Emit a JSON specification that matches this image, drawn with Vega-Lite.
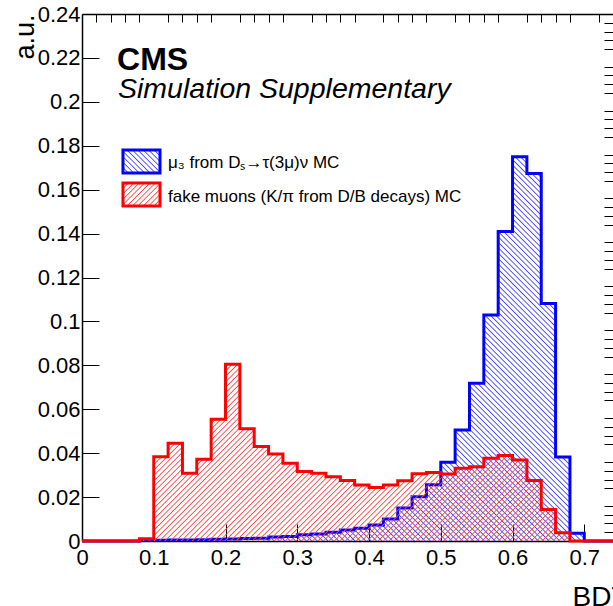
{
  "$schema": "https://vega.github.io/schema/vega-lite/v6.json",
  "width": 531,
  "height": 527,
  "autosize": {"type": "none"},
  "padding": {"left": 82, "top": 14, "right": 0, "bottom": 65},
  "background": "white",
  "datasets": {
    "muon": [
      {"lo": 0.00, "hi": 0.02, "v": 0},
      {"lo": 0.02, "hi": 0.04, "v": 0},
      {"lo": 0.04, "hi": 0.06, "v": 0},
      {"lo": 0.06, "hi": 0.08, "v": 0},
      {"lo": 0.08, "hi": 0.10, "v": 0.0003},
      {"lo": 0.10, "hi": 0.12, "v": 0.0003},
      {"lo": 0.12, "hi": 0.14, "v": 0.0004},
      {"lo": 0.14, "hi": 0.16, "v": 0.0005},
      {"lo": 0.16, "hi": 0.18, "v": 0.0006},
      {"lo": 0.18, "hi": 0.20, "v": 0.0008},
      {"lo": 0.20, "hi": 0.22, "v": 0.0009},
      {"lo": 0.22, "hi": 0.24, "v": 0.0011},
      {"lo": 0.24, "hi": 0.26, "v": 0.0013},
      {"lo": 0.26, "hi": 0.28, "v": 0.0018},
      {"lo": 0.28, "hi": 0.30, "v": 0.0021},
      {"lo": 0.30, "hi": 0.32, "v": 0.0028},
      {"lo": 0.32, "hi": 0.34, "v": 0.0032},
      {"lo": 0.34, "hi": 0.36, "v": 0.0040},
      {"lo": 0.36, "hi": 0.38, "v": 0.0050},
      {"lo": 0.38, "hi": 0.40, "v": 0.0058},
      {"lo": 0.40, "hi": 0.42, "v": 0.0073},
      {"lo": 0.42, "hi": 0.44, "v": 0.0100},
      {"lo": 0.44, "hi": 0.46, "v": 0.0150},
      {"lo": 0.46, "hi": 0.48, "v": 0.0201},
      {"lo": 0.48, "hi": 0.50, "v": 0.0256},
      {"lo": 0.50, "hi": 0.52, "v": 0.0359},
      {"lo": 0.52, "hi": 0.54, "v": 0.0506},
      {"lo": 0.54, "hi": 0.56, "v": 0.0718},
      {"lo": 0.56, "hi": 0.58, "v": 0.1029},
      {"lo": 0.58, "hi": 0.60, "v": 0.1409},
      {"lo": 0.60, "hi": 0.62, "v": 0.1750},
      {"lo": 0.62, "hi": 0.64, "v": 0.1674},
      {"lo": 0.64, "hi": 0.66, "v": 0.1082},
      {"lo": 0.66, "hi": 0.68, "v": 0.0382},
      {"lo": 0.68, "hi": 0.70, "v": 0.0035},
      {"lo": 0.70, "hi": 0.72, "v": 0},
      {"lo": 0.72, "hi": 0.74, "v": 0}
    ],
    "fake": [
      {"lo": 0.00, "hi": 0.02, "v": 0},
      {"lo": 0.02, "hi": 0.04, "v": 0},
      {"lo": 0.04, "hi": 0.06, "v": 0},
      {"lo": 0.06, "hi": 0.08, "v": 0},
      {"lo": 0.08, "hi": 0.10, "v": 0.0010},
      {"lo": 0.10, "hi": 0.12, "v": 0.0384},
      {"lo": 0.12, "hi": 0.14, "v": 0.0445},
      {"lo": 0.14, "hi": 0.16, "v": 0.0308},
      {"lo": 0.16, "hi": 0.18, "v": 0.0372},
      {"lo": 0.18, "hi": 0.20, "v": 0.0554},
      {"lo": 0.20, "hi": 0.22, "v": 0.0805},
      {"lo": 0.22, "hi": 0.24, "v": 0.0511},
      {"lo": 0.24, "hi": 0.26, "v": 0.0430},
      {"lo": 0.26, "hi": 0.28, "v": 0.0396},
      {"lo": 0.28, "hi": 0.30, "v": 0.0354},
      {"lo": 0.30, "hi": 0.32, "v": 0.0316},
      {"lo": 0.32, "hi": 0.34, "v": 0.0308},
      {"lo": 0.34, "hi": 0.36, "v": 0.0293},
      {"lo": 0.36, "hi": 0.38, "v": 0.0275},
      {"lo": 0.38, "hi": 0.40, "v": 0.0255},
      {"lo": 0.40, "hi": 0.42, "v": 0.0244},
      {"lo": 0.42, "hi": 0.44, "v": 0.0255},
      {"lo": 0.44, "hi": 0.46, "v": 0.0274},
      {"lo": 0.46, "hi": 0.48, "v": 0.0306},
      {"lo": 0.48, "hi": 0.50, "v": 0.0312},
      {"lo": 0.50, "hi": 0.52, "v": 0.0305},
      {"lo": 0.52, "hi": 0.54, "v": 0.0331},
      {"lo": 0.54, "hi": 0.56, "v": 0.0338},
      {"lo": 0.56, "hi": 0.58, "v": 0.0377},
      {"lo": 0.58, "hi": 0.60, "v": 0.0389},
      {"lo": 0.60, "hi": 0.62, "v": 0.0369},
      {"lo": 0.62, "hi": 0.64, "v": 0.0275},
      {"lo": 0.64, "hi": 0.66, "v": 0.0144},
      {"lo": 0.66, "hi": 0.68, "v": 0.0038},
      {"lo": 0.68, "hi": 0.70, "v": 0},
      {"lo": 0.70, "hi": 0.72, "v": 0},
      {"lo": 0.72, "hi": 0.74, "v": 0}
    ]
  },
  "layer": [
    {
      "data": {"name": "muon"},
      "transform": [{"filter": "datum.v > 0"}, {"fold": ["lo", "hi"], "as": ["edge", "x"]}],
      "mark": {
        "type": "area", "clip": true,
        "fill": {
          "gradient": "linear", "x1": 0, "y1": 1, "x2": 1.0674, "y2": 0.078,
          "stops": [
            {"offset":0.1545,"color":"#44f0"},{"offset":0.156,"color":"#44f"},{"offset":0.1575,"color":"#44f0"},
            {"offset":0.161,"color":"#44f0"},{"offset":0.1625,"color":"#44f"},{"offset":0.164,"color":"#44f0"},
            {"offset":0.1675,"color":"#44f0"},{"offset":0.169,"color":"#44f"},{"offset":0.1705,"color":"#44f0"},
            {"offset":0.174,"color":"#44f0"},{"offset":0.1755,"color":"#44f"},{"offset":0.177,"color":"#44f0"},
            {"offset":0.1805,"color":"#44f0"},{"offset":0.182,"color":"#44f"},{"offset":0.1835,"color":"#44f0"},
            {"offset":0.187,"color":"#44f0"},{"offset":0.1885,"color":"#44f"},{"offset":0.19,"color":"#44f0"},
            {"offset":0.1935,"color":"#44f0"},{"offset":0.195,"color":"#44f"},{"offset":0.1965,"color":"#44f0"},
            {"offset":0.2,"color":"#44f0"},{"offset":0.2015,"color":"#44f"},{"offset":0.203,"color":"#44f0"},
            {"offset":0.2065,"color":"#44f0"},{"offset":0.208,"color":"#44f"},{"offset":0.2095,"color":"#44f0"},
            {"offset":0.213,"color":"#44f0"},{"offset":0.2145,"color":"#44f"},{"offset":0.216,"color":"#44f0"},
            {"offset":0.2195,"color":"#44f0"},{"offset":0.221,"color":"#44f"},{"offset":0.2225,"color":"#44f0"},
            {"offset":0.226,"color":"#44f0"},{"offset":0.2275,"color":"#44f"},{"offset":0.229,"color":"#44f0"},
            {"offset":0.2325,"color":"#44f0"},{"offset":0.234,"color":"#44f"},{"offset":0.2355,"color":"#44f0"},
            {"offset":0.239,"color":"#44f0"},{"offset":0.2405,"color":"#44f"},{"offset":0.242,"color":"#44f0"},
            {"offset":0.2455,"color":"#44f0"},{"offset":0.247,"color":"#44f"},{"offset":0.2485,"color":"#44f0"},
            {"offset":0.252,"color":"#44f0"},{"offset":0.2535,"color":"#44f"},{"offset":0.255,"color":"#44f0"},
            {"offset":0.2585,"color":"#44f0"},{"offset":0.26,"color":"#44f"},{"offset":0.2615,"color":"#44f0"},
            {"offset":0.265,"color":"#44f0"},{"offset":0.2665,"color":"#44f"},{"offset":0.268,"color":"#44f0"},
            {"offset":0.2715,"color":"#44f0"},{"offset":0.273,"color":"#44f"},{"offset":0.2745,"color":"#44f0"},
            {"offset":0.278,"color":"#44f0"},{"offset":0.2795,"color":"#44f"},{"offset":0.281,"color":"#44f0"},
            {"offset":0.2845,"color":"#44f0"},{"offset":0.286,"color":"#44f"},{"offset":0.2875,"color":"#44f0"},
            {"offset":0.291,"color":"#44f0"},{"offset":0.2925,"color":"#44f"},{"offset":0.294,"color":"#44f0"},
            {"offset":0.2975,"color":"#44f0"},{"offset":0.299,"color":"#44f"},{"offset":0.3005,"color":"#44f0"},
            {"offset":0.304,"color":"#44f0"},{"offset":0.3055,"color":"#44f"},{"offset":0.307,"color":"#44f0"},
            {"offset":0.3105,"color":"#44f0"},{"offset":0.312,"color":"#44f"},{"offset":0.3135,"color":"#44f0"},
            {"offset":0.317,"color":"#44f0"},{"offset":0.3185,"color":"#44f"},{"offset":0.32,"color":"#44f0"},
            {"offset":0.3235,"color":"#44f0"},{"offset":0.325,"color":"#44f"},{"offset":0.3265,"color":"#44f0"},
            {"offset":0.33,"color":"#44f0"},{"offset":0.3315,"color":"#44f"},{"offset":0.333,"color":"#44f0"},
            {"offset":0.3365,"color":"#44f0"},{"offset":0.338,"color":"#44f"},{"offset":0.3395,"color":"#44f0"},
            {"offset":0.343,"color":"#44f0"},{"offset":0.3445,"color":"#44f"},{"offset":0.346,"color":"#44f0"},
            {"offset":0.3495,"color":"#44f0"},{"offset":0.351,"color":"#44f"},{"offset":0.3525,"color":"#44f0"},
            {"offset":0.356,"color":"#44f0"},{"offset":0.3575,"color":"#44f"},{"offset":0.359,"color":"#44f0"},
            {"offset":0.3625,"color":"#44f0"},{"offset":0.364,"color":"#44f"},{"offset":0.3655,"color":"#44f0"},
            {"offset":0.369,"color":"#44f0"},{"offset":0.3705,"color":"#44f"},{"offset":0.372,"color":"#44f0"},
            {"offset":0.3755,"color":"#44f0"},{"offset":0.377,"color":"#44f"},{"offset":0.3785,"color":"#44f0"},
            {"offset":0.382,"color":"#44f0"},{"offset":0.3835,"color":"#44f"},{"offset":0.385,"color":"#44f0"},
            {"offset":0.3885,"color":"#44f0"},{"offset":0.39,"color":"#44f"},{"offset":0.3915,"color":"#44f0"},
            {"offset":0.395,"color":"#44f0"},{"offset":0.3965,"color":"#44f"},{"offset":0.398,"color":"#44f0"},
            {"offset":0.4015,"color":"#44f0"},{"offset":0.403,"color":"#44f"},{"offset":0.4045,"color":"#44f0"},
            {"offset":0.408,"color":"#44f0"},{"offset":0.4095,"color":"#44f"},{"offset":0.411,"color":"#44f0"},
            {"offset":0.4145,"color":"#44f0"},{"offset":0.416,"color":"#44f"},{"offset":0.4175,"color":"#44f0"},
            {"offset":0.421,"color":"#44f0"},{"offset":0.4225,"color":"#44f"},{"offset":0.424,"color":"#44f0"},
            {"offset":0.4275,"color":"#44f0"},{"offset":0.429,"color":"#44f"},{"offset":0.4305,"color":"#44f0"},
            {"offset":0.434,"color":"#44f0"},{"offset":0.4355,"color":"#44f"},{"offset":0.437,"color":"#44f0"},
            {"offset":0.4405,"color":"#44f0"},{"offset":0.442,"color":"#44f"},{"offset":0.4435,"color":"#44f0"},
            {"offset":0.447,"color":"#44f0"},{"offset":0.4485,"color":"#44f"},{"offset":0.45,"color":"#44f0"},
            {"offset":0.4535,"color":"#44f0"},{"offset":0.455,"color":"#44f"},{"offset":0.4565,"color":"#44f0"},
            {"offset":0.46,"color":"#44f0"},{"offset":0.4615,"color":"#44f"},{"offset":0.463,"color":"#44f0"},
            {"offset":0.4665,"color":"#44f0"},{"offset":0.468,"color":"#44f"},{"offset":0.4695,"color":"#44f0"},
            {"offset":0.473,"color":"#44f0"},{"offset":0.4745,"color":"#44f"},{"offset":0.476,"color":"#44f0"},
            {"offset":0.4795,"color":"#44f0"},{"offset":0.481,"color":"#44f"},{"offset":0.4825,"color":"#44f0"},
            {"offset":0.486,"color":"#44f0"},{"offset":0.4875,"color":"#44f"},{"offset":0.489,"color":"#44f0"},
            {"offset":0.4925,"color":"#44f0"},{"offset":0.494,"color":"#44f"},{"offset":0.4955,"color":"#44f0"},
            {"offset":0.499,"color":"#44f0"},{"offset":0.5005,"color":"#44f"},{"offset":0.502,"color":"#44f0"},
            {"offset":0.5055,"color":"#44f0"},{"offset":0.507,"color":"#44f"},{"offset":0.5085,"color":"#44f0"},
            {"offset":0.512,"color":"#44f0"},{"offset":0.5135,"color":"#44f"},{"offset":0.515,"color":"#44f0"},
            {"offset":0.5185,"color":"#44f0"},{"offset":0.52,"color":"#44f"},{"offset":0.5215,"color":"#44f0"},
            {"offset":0.525,"color":"#44f0"},{"offset":0.5265,"color":"#44f"},{"offset":0.528,"color":"#44f0"},
            {"offset":0.5315,"color":"#44f0"},{"offset":0.533,"color":"#44f"},{"offset":0.5345,"color":"#44f0"},
            {"offset":0.538,"color":"#44f0"},{"offset":0.5395,"color":"#44f"},{"offset":0.541,"color":"#44f0"},
            {"offset":0.5445,"color":"#44f0"},{"offset":0.546,"color":"#44f"},{"offset":0.5475,"color":"#44f0"},
            {"offset":0.551,"color":"#44f0"},{"offset":0.5525,"color":"#44f"},{"offset":0.554,"color":"#44f0"},
            {"offset":0.5575,"color":"#44f0"},{"offset":0.559,"color":"#44f"},{"offset":0.5605,"color":"#44f0"},
            {"offset":0.564,"color":"#44f0"},{"offset":0.5655,"color":"#44f"},{"offset":0.567,"color":"#44f0"},
            {"offset":0.5705,"color":"#44f0"},{"offset":0.572,"color":"#44f"},{"offset":0.5735,"color":"#44f0"},
            {"offset":0.577,"color":"#44f0"},{"offset":0.5785,"color":"#44f"},{"offset":0.58,"color":"#44f0"},
            {"offset":0.5835,"color":"#44f0"},{"offset":0.585,"color":"#44f"},{"offset":0.5865,"color":"#44f0"},
            {"offset":0.59,"color":"#44f0"},{"offset":0.5915,"color":"#44f"},{"offset":0.593,"color":"#44f0"},
            {"offset":0.5965,"color":"#44f0"},{"offset":0.598,"color":"#44f"},{"offset":0.5995,"color":"#44f0"},
            {"offset":0.603,"color":"#44f0"},{"offset":0.6045,"color":"#44f"},{"offset":0.606,"color":"#44f0"},
            {"offset":0.6095,"color":"#44f0"},{"offset":0.611,"color":"#44f"},{"offset":0.6125,"color":"#44f0"},
            {"offset":0.616,"color":"#44f0"},{"offset":0.6175,"color":"#44f"},{"offset":0.619,"color":"#44f0"},
            {"offset":0.6225,"color":"#44f0"},{"offset":0.624,"color":"#44f"},{"offset":0.6255,"color":"#44f0"},
            {"offset":0.629,"color":"#44f0"},{"offset":0.6305,"color":"#44f"},{"offset":0.632,"color":"#44f0"},
            {"offset":0.6355,"color":"#44f0"},{"offset":0.637,"color":"#44f"},{"offset":0.6385,"color":"#44f0"},
            {"offset":0.642,"color":"#44f0"},{"offset":0.6435,"color":"#44f"},{"offset":0.645,"color":"#44f0"},
            {"offset":0.6485,"color":"#44f0"},{"offset":0.65,"color":"#44f"},{"offset":0.6515,"color":"#44f0"},
            {"offset":0.655,"color":"#44f0"},{"offset":0.6565,"color":"#44f"},{"offset":0.658,"color":"#44f0"},
            {"offset":0.6615,"color":"#44f0"},{"offset":0.663,"color":"#44f"},{"offset":0.6645,"color":"#44f0"},
            {"offset":0.668,"color":"#44f0"},{"offset":0.6695,"color":"#44f"},{"offset":0.671,"color":"#44f0"},
            {"offset":0.6745,"color":"#44f0"},{"offset":0.676,"color":"#44f"},{"offset":0.6775,"color":"#44f0"},
            {"offset":0.681,"color":"#44f0"},{"offset":0.6825,"color":"#44f"},{"offset":0.684,"color":"#44f0"},
            {"offset":0.6875,"color":"#44f0"},{"offset":0.689,"color":"#44f"},{"offset":0.6905,"color":"#44f0"},
            {"offset":0.694,"color":"#44f0"},{"offset":0.6955,"color":"#44f"},{"offset":0.697,"color":"#44f0"},
            {"offset":0.7005,"color":"#44f0"},{"offset":0.702,"color":"#44f"},{"offset":0.7035,"color":"#44f0"},
            {"offset":0.707,"color":"#44f0"},{"offset":0.7085,"color":"#44f"},{"offset":0.71,"color":"#44f0"},
            {"offset":0.7135,"color":"#44f0"},{"offset":0.715,"color":"#44f"},{"offset":0.7165,"color":"#44f0"},
            {"offset":0.72,"color":"#44f0"},{"offset":0.7215,"color":"#44f"},{"offset":0.723,"color":"#44f0"},
            {"offset":0.7265,"color":"#44f0"},{"offset":0.728,"color":"#44f"},{"offset":0.7295,"color":"#44f0"},
            {"offset":0.733,"color":"#44f0"},{"offset":0.7345,"color":"#44f"},{"offset":0.736,"color":"#44f0"},
            {"offset":0.7395,"color":"#44f0"},{"offset":0.741,"color":"#44f"},{"offset":0.7425,"color":"#44f0"},
            {"offset":0.746,"color":"#44f0"},{"offset":0.7475,"color":"#44f"},{"offset":0.749,"color":"#44f0"},
            {"offset":0.7525,"color":"#44f0"},{"offset":0.754,"color":"#44f"},{"offset":0.7555,"color":"#44f0"},
            {"offset":0.759,"color":"#44f0"},{"offset":0.7605,"color":"#44f"},{"offset":0.762,"color":"#44f0"},
            {"offset":0.7655,"color":"#44f0"},{"offset":0.767,"color":"#44f"},{"offset":0.7685,"color":"#44f0"},
            {"offset":0.772,"color":"#44f0"},{"offset":0.7735,"color":"#44f"},{"offset":0.775,"color":"#44f0"},
            {"offset":0.7785,"color":"#44f0"},{"offset":0.78,"color":"#44f"},{"offset":0.7815,"color":"#44f0"},
            {"offset":0.785,"color":"#44f0"},{"offset":0.7865,"color":"#44f"},{"offset":0.788,"color":"#44f0"},
            {"offset":0.7915,"color":"#44f0"},{"offset":0.793,"color":"#44f"},{"offset":0.7945,"color":"#44f0"},
            {"offset":0.798,"color":"#44f0"},{"offset":0.7995,"color":"#44f"},{"offset":0.801,"color":"#44f0"},
            {"offset":0.8045,"color":"#44f0"},{"offset":0.806,"color":"#44f"},{"offset":0.8075,"color":"#44f0"},
            {"offset":0.811,"color":"#44f0"},{"offset":0.8125,"color":"#44f"},{"offset":0.814,"color":"#44f0"},
            {"offset":0.8175,"color":"#44f0"},{"offset":0.819,"color":"#44f"},{"offset":0.8205,"color":"#44f0"},
            {"offset":0.824,"color":"#44f0"},{"offset":0.8255,"color":"#44f"},{"offset":0.827,"color":"#44f0"},
            {"offset":0.8305,"color":"#44f0"},{"offset":0.832,"color":"#44f"},{"offset":0.8335,"color":"#44f0"},
            {"offset":0.837,"color":"#44f0"},{"offset":0.8385,"color":"#44f"},{"offset":0.84,"color":"#44f0"},
            {"offset":0.8435,"color":"#44f0"},{"offset":0.845,"color":"#44f"},{"offset":0.8465,"color":"#44f0"},
            {"offset":0.85,"color":"#44f0"},{"offset":0.8515,"color":"#44f"},{"offset":0.853,"color":"#44f0"},
            {"offset":0.8565,"color":"#44f0"},{"offset":0.858,"color":"#44f"},{"offset":0.8595,"color":"#44f0"},
            {"offset":0.863,"color":"#44f0"},{"offset":0.8645,"color":"#44f"},{"offset":0.866,"color":"#44f0"},
            {"offset":0.8695,"color":"#44f0"},{"offset":0.871,"color":"#44f"},{"offset":0.8725,"color":"#44f0"},
            {"offset":0.876,"color":"#44f0"},{"offset":0.8775,"color":"#44f"},{"offset":0.879,"color":"#44f0"},
            {"offset":0.8825,"color":"#44f0"},{"offset":0.884,"color":"#44f"},{"offset":0.8855,"color":"#44f0"},
            {"offset":0.889,"color":"#44f0"},{"offset":0.8905,"color":"#44f"},{"offset":0.892,"color":"#44f0"},
            {"offset":0.8955,"color":"#44f0"},{"offset":0.897,"color":"#44f"},{"offset":0.8985,"color":"#44f0"},
            {"offset":0.902,"color":"#44f0"},{"offset":0.9035,"color":"#44f"},{"offset":0.905,"color":"#44f0"},
            {"offset":0.9085,"color":"#44f0"},{"offset":0.91,"color":"#44f"},{"offset":0.9115,"color":"#44f0"},
            {"offset":0.915,"color":"#44f0"},{"offset":0.9165,"color":"#44f"},{"offset":0.918,"color":"#44f0"},
            {"offset":0.9215,"color":"#44f0"},{"offset":0.923,"color":"#44f"},{"offset":0.9245,"color":"#44f0"},
            {"offset":0.928,"color":"#44f0"},{"offset":0.9295,"color":"#44f"},{"offset":0.931,"color":"#44f0"},
            {"offset":0.9345,"color":"#44f0"},{"offset":0.936,"color":"#44f"},{"offset":0.9375,"color":"#44f0"},
            {"offset":0.941,"color":"#44f0"},{"offset":0.9425,"color":"#44f"},{"offset":0.944,"color":"#44f0"}
          ]
        }
      },
      "encoding": {
        "x": {
          "field": "x", "type": "quantitative",
          "scale": {"domain": [0, 0.74], "nice": false, "zero": false},
          "axis": {
            "values": [0, 0.1, 0.2, 0.3, 0.4, 0.5, 0.6, 0.7],
            "format": ".1~f", "tickSize": -17, "labelPadding": 23,
            "domain": true, "domainWidth": 1.5,
            "title": "BDT", "titleFontSize": 28, "titleAlign": "left", "titleAnchor": "start",
            "titleX": 490, "titleY": 64, "titleBaseline": "alphabetic"
          }
        },
        "y": {
          "field": "v", "type": "quantitative", "stack": null,
          "scale": {"domain": [0, 0.24], "nice": false, "zero": false},
          "axis": {
            "values": [0, 0.02, 0.04, 0.06, 0.08, 0.1, 0.12, 0.14, 0.16, 0.18, 0.2, 0.22, 0.24],
            "format": ".2~f", "tickSize": -17, "labelPadding": 19,
            "domain": true, "domainWidth": 1.5,
            "title": "a.u.", "titleFontSize": 27, "titleAngle": -90, "titleAlign": "right", "titleAnchor": "end",
            "titleX": -49, "titleY": 0, "titleBaseline": "alphabetic"
          }
        }
      }
    },
    {
      "data": {"name": "muon"},
      "transform": [{"fold": ["lo", "hi"], "as": ["edge", "x"]}],
      "mark": {"type": "line", "color": "#0000ff", "strokeWidth": 3, "strokeJoin": "miter"},
      "encoding": {
        "x": {
          "field": "x", "type": "quantitative",
          "axis": {
            "values": [0.02, 0.04, 0.06, 0.08, 0.12, 0.14, 0.16, 0.18, 0.22, 0.24, 0.26, 0.28, 0.32, 0.34, 0.36, 0.38, 0.42, 0.44, 0.46, 0.48, 0.52, 0.54, 0.56, 0.58, 0.62, 0.64, 0.66, 0.68, 0.72, 0.74],
            "tickSize": -8, "labels": false, "domain": false, "title": null
          }
        },
        "y": {
          "field": "v", "type": "quantitative",
          "axis": {
            "values": [0.004, 0.008, 0.012, 0.016, 0.024, 0.028, 0.032, 0.036, 0.044, 0.048, 0.052, 0.056, 0.064, 0.068, 0.072, 0.076, 0.084, 0.088, 0.092, 0.096, 0.104, 0.108, 0.112, 0.116, 0.124, 0.128, 0.132, 0.136, 0.144, 0.148, 0.152, 0.156, 0.164, 0.168, 0.172, 0.176, 0.184, 0.188, 0.192, 0.196, 0.204, 0.208, 0.212, 0.216, 0.224, 0.228, 0.232, 0.236],
            "tickSize": -9, "labels": false, "domain": false, "title": null
          }
        },
        "order": [{"field": "x"}, {"field": "lo"}]
      }
    },
    {
      "data": {"name": "fake"},
      "transform": [{"filter": "datum.v > 0"}, {"fold": ["lo", "hi"], "as": ["edge", "x"]}],
      "mark": {
        "type": "area", "clip": true,
        "fill": {
          "gradient": "linear", "x1": 0, "y1": 0, "x2": 1.2071, "y2": 0.4956,
          "stops": [
            {"offset":0.133,"color":"#f440"},{"offset":0.135,"color":"#f44"},{"offset":0.137,"color":"#f440"},
            {"offset":0.142,"color":"#f440"},{"offset":0.144,"color":"#f44"},{"offset":0.146,"color":"#f440"},
            {"offset":0.151,"color":"#f440"},{"offset":0.153,"color":"#f44"},{"offset":0.155,"color":"#f440"},
            {"offset":0.16,"color":"#f440"},{"offset":0.162,"color":"#f44"},{"offset":0.164,"color":"#f440"},
            {"offset":0.169,"color":"#f440"},{"offset":0.171,"color":"#f44"},{"offset":0.173,"color":"#f440"},
            {"offset":0.178,"color":"#f440"},{"offset":0.18,"color":"#f44"},{"offset":0.182,"color":"#f440"},
            {"offset":0.187,"color":"#f440"},{"offset":0.189,"color":"#f44"},{"offset":0.191,"color":"#f440"},
            {"offset":0.196,"color":"#f440"},{"offset":0.198,"color":"#f44"},{"offset":0.2,"color":"#f440"},
            {"offset":0.205,"color":"#f440"},{"offset":0.207,"color":"#f44"},{"offset":0.209,"color":"#f440"},
            {"offset":0.214,"color":"#f440"},{"offset":0.216,"color":"#f44"},{"offset":0.218,"color":"#f440"},
            {"offset":0.223,"color":"#f440"},{"offset":0.225,"color":"#f44"},{"offset":0.227,"color":"#f440"},
            {"offset":0.232,"color":"#f440"},{"offset":0.234,"color":"#f44"},{"offset":0.236,"color":"#f440"},
            {"offset":0.241,"color":"#f440"},{"offset":0.243,"color":"#f44"},{"offset":0.245,"color":"#f440"},
            {"offset":0.25,"color":"#f440"},{"offset":0.252,"color":"#f44"},{"offset":0.254,"color":"#f440"},
            {"offset":0.259,"color":"#f440"},{"offset":0.261,"color":"#f44"},{"offset":0.263,"color":"#f440"},
            {"offset":0.268,"color":"#f440"},{"offset":0.27,"color":"#f44"},{"offset":0.272,"color":"#f440"},
            {"offset":0.277,"color":"#f440"},{"offset":0.279,"color":"#f44"},{"offset":0.281,"color":"#f440"},
            {"offset":0.286,"color":"#f440"},{"offset":0.288,"color":"#f44"},{"offset":0.29,"color":"#f440"},
            {"offset":0.295,"color":"#f440"},{"offset":0.297,"color":"#f44"},{"offset":0.299,"color":"#f440"},
            {"offset":0.304,"color":"#f440"},{"offset":0.306,"color":"#f44"},{"offset":0.308,"color":"#f440"},
            {"offset":0.313,"color":"#f440"},{"offset":0.315,"color":"#f44"},{"offset":0.317,"color":"#f440"},
            {"offset":0.322,"color":"#f440"},{"offset":0.324,"color":"#f44"},{"offset":0.326,"color":"#f440"},
            {"offset":0.331,"color":"#f440"},{"offset":0.333,"color":"#f44"},{"offset":0.335,"color":"#f440"},
            {"offset":0.34,"color":"#f440"},{"offset":0.342,"color":"#f44"},{"offset":0.344,"color":"#f440"},
            {"offset":0.349,"color":"#f440"},{"offset":0.351,"color":"#f44"},{"offset":0.353,"color":"#f440"},
            {"offset":0.358,"color":"#f440"},{"offset":0.36,"color":"#f44"},{"offset":0.362,"color":"#f440"},
            {"offset":0.367,"color":"#f440"},{"offset":0.369,"color":"#f44"},{"offset":0.371,"color":"#f440"},
            {"offset":0.376,"color":"#f440"},{"offset":0.378,"color":"#f44"},{"offset":0.38,"color":"#f440"},
            {"offset":0.385,"color":"#f440"},{"offset":0.387,"color":"#f44"},{"offset":0.389,"color":"#f440"},
            {"offset":0.394,"color":"#f440"},{"offset":0.396,"color":"#f44"},{"offset":0.398,"color":"#f440"},
            {"offset":0.403,"color":"#f440"},{"offset":0.405,"color":"#f44"},{"offset":0.407,"color":"#f440"},
            {"offset":0.412,"color":"#f440"},{"offset":0.414,"color":"#f44"},{"offset":0.416,"color":"#f440"},
            {"offset":0.421,"color":"#f440"},{"offset":0.423,"color":"#f44"},{"offset":0.425,"color":"#f440"},
            {"offset":0.43,"color":"#f440"},{"offset":0.432,"color":"#f44"},{"offset":0.434,"color":"#f440"},
            {"offset":0.439,"color":"#f440"},{"offset":0.441,"color":"#f44"},{"offset":0.443,"color":"#f440"},
            {"offset":0.448,"color":"#f440"},{"offset":0.45,"color":"#f44"},{"offset":0.452,"color":"#f440"},
            {"offset":0.457,"color":"#f440"},{"offset":0.459,"color":"#f44"},{"offset":0.461,"color":"#f440"},
            {"offset":0.466,"color":"#f440"},{"offset":0.468,"color":"#f44"},{"offset":0.47,"color":"#f440"},
            {"offset":0.475,"color":"#f440"},{"offset":0.477,"color":"#f44"},{"offset":0.479,"color":"#f440"},
            {"offset":0.484,"color":"#f440"},{"offset":0.486,"color":"#f44"},{"offset":0.488,"color":"#f440"},
            {"offset":0.493,"color":"#f440"},{"offset":0.495,"color":"#f44"},{"offset":0.497,"color":"#f440"},
            {"offset":0.502,"color":"#f440"},{"offset":0.504,"color":"#f44"},{"offset":0.506,"color":"#f440"},
            {"offset":0.511,"color":"#f440"},{"offset":0.513,"color":"#f44"},{"offset":0.515,"color":"#f440"},
            {"offset":0.52,"color":"#f440"},{"offset":0.522,"color":"#f44"},{"offset":0.524,"color":"#f440"},
            {"offset":0.529,"color":"#f440"},{"offset":0.531,"color":"#f44"},{"offset":0.533,"color":"#f440"},
            {"offset":0.538,"color":"#f440"},{"offset":0.54,"color":"#f44"},{"offset":0.542,"color":"#f440"},
            {"offset":0.547,"color":"#f440"},{"offset":0.549,"color":"#f44"},{"offset":0.551,"color":"#f440"},
            {"offset":0.556,"color":"#f440"},{"offset":0.558,"color":"#f44"},{"offset":0.56,"color":"#f440"},
            {"offset":0.565,"color":"#f440"},{"offset":0.567,"color":"#f44"},{"offset":0.569,"color":"#f440"},
            {"offset":0.574,"color":"#f440"},{"offset":0.576,"color":"#f44"},{"offset":0.578,"color":"#f440"},
            {"offset":0.583,"color":"#f440"},{"offset":0.585,"color":"#f44"},{"offset":0.587,"color":"#f440"},
            {"offset":0.592,"color":"#f440"},{"offset":0.594,"color":"#f44"},{"offset":0.596,"color":"#f440"},
            {"offset":0.601,"color":"#f440"},{"offset":0.603,"color":"#f44"},{"offset":0.605,"color":"#f440"},
            {"offset":0.61,"color":"#f440"},{"offset":0.612,"color":"#f44"},{"offset":0.614,"color":"#f440"},
            {"offset":0.619,"color":"#f440"},{"offset":0.621,"color":"#f44"},{"offset":0.623,"color":"#f440"},
            {"offset":0.628,"color":"#f440"},{"offset":0.63,"color":"#f44"},{"offset":0.632,"color":"#f440"},
            {"offset":0.637,"color":"#f440"},{"offset":0.639,"color":"#f44"},{"offset":0.641,"color":"#f440"},
            {"offset":0.646,"color":"#f440"},{"offset":0.648,"color":"#f44"},{"offset":0.65,"color":"#f440"},
            {"offset":0.655,"color":"#f440"},{"offset":0.657,"color":"#f44"},{"offset":0.659,"color":"#f440"},
            {"offset":0.664,"color":"#f440"},{"offset":0.666,"color":"#f44"},{"offset":0.668,"color":"#f440"},
            {"offset":0.673,"color":"#f440"},{"offset":0.675,"color":"#f44"},{"offset":0.677,"color":"#f440"},
            {"offset":0.682,"color":"#f440"},{"offset":0.684,"color":"#f44"},{"offset":0.686,"color":"#f440"},
            {"offset":0.691,"color":"#f440"},{"offset":0.693,"color":"#f44"},{"offset":0.695,"color":"#f440"},
            {"offset":0.7,"color":"#f440"},{"offset":0.702,"color":"#f44"},{"offset":0.704,"color":"#f440"},
            {"offset":0.709,"color":"#f440"},{"offset":0.711,"color":"#f44"},{"offset":0.713,"color":"#f440"},
            {"offset":0.718,"color":"#f440"},{"offset":0.72,"color":"#f44"},{"offset":0.722,"color":"#f440"},
            {"offset":0.727,"color":"#f440"},{"offset":0.729,"color":"#f44"},{"offset":0.731,"color":"#f440"},
            {"offset":0.736,"color":"#f440"},{"offset":0.738,"color":"#f44"},{"offset":0.74,"color":"#f440"},
            {"offset":0.745,"color":"#f440"},{"offset":0.747,"color":"#f44"},{"offset":0.749,"color":"#f440"},
            {"offset":0.754,"color":"#f440"},{"offset":0.756,"color":"#f44"},{"offset":0.758,"color":"#f440"},
            {"offset":0.763,"color":"#f440"},{"offset":0.765,"color":"#f44"},{"offset":0.767,"color":"#f440"},
            {"offset":0.772,"color":"#f440"},{"offset":0.774,"color":"#f44"},{"offset":0.776,"color":"#f440"},
            {"offset":0.781,"color":"#f440"},{"offset":0.783,"color":"#f44"},{"offset":0.785,"color":"#f440"},
            {"offset":0.79,"color":"#f440"},{"offset":0.792,"color":"#f44"},{"offset":0.794,"color":"#f440"},
            {"offset":0.799,"color":"#f440"},{"offset":0.801,"color":"#f44"},{"offset":0.803,"color":"#f440"},
            {"offset":0.808,"color":"#f440"},{"offset":0.81,"color":"#f44"},{"offset":0.812,"color":"#f440"},
            {"offset":0.817,"color":"#f440"},{"offset":0.819,"color":"#f44"},{"offset":0.821,"color":"#f440"},
            {"offset":0.826,"color":"#f440"},{"offset":0.828,"color":"#f44"},{"offset":0.83,"color":"#f440"},
            {"offset":0.835,"color":"#f440"},{"offset":0.837,"color":"#f44"},{"offset":0.839,"color":"#f440"},
            {"offset":0.844,"color":"#f440"},{"offset":0.846,"color":"#f44"},{"offset":0.848,"color":"#f440"},
            {"offset":0.853,"color":"#f440"},{"offset":0.855,"color":"#f44"},{"offset":0.857,"color":"#f440"},
            {"offset":0.862,"color":"#f440"},{"offset":0.864,"color":"#f44"},{"offset":0.866,"color":"#f440"},
            {"offset":0.871,"color":"#f440"},{"offset":0.873,"color":"#f44"},{"offset":0.875,"color":"#f440"},
            {"offset":0.88,"color":"#f440"},{"offset":0.882,"color":"#f44"},{"offset":0.884,"color":"#f440"},
            {"offset":0.889,"color":"#f440"},{"offset":0.891,"color":"#f44"},{"offset":0.893,"color":"#f440"},
            {"offset":0.898,"color":"#f440"},{"offset":0.9,"color":"#f44"},{"offset":0.902,"color":"#f440"},
            {"offset":0.907,"color":"#f440"},{"offset":0.909,"color":"#f44"},{"offset":0.911,"color":"#f440"},
            {"offset":0.916,"color":"#f440"},{"offset":0.918,"color":"#f44"},{"offset":0.92,"color":"#f440"},
            {"offset":0.925,"color":"#f440"},{"offset":0.927,"color":"#f44"},{"offset":0.929,"color":"#f440"},
            {"offset":0.934,"color":"#f440"},{"offset":0.936,"color":"#f44"},{"offset":0.938,"color":"#f440"},
            {"offset":0.943,"color":"#f440"},{"offset":0.945,"color":"#f44"},{"offset":0.947,"color":"#f440"},
            {"offset":0.952,"color":"#f440"},{"offset":0.954,"color":"#f44"},{"offset":0.956,"color":"#f440"},
            {"offset":0.961,"color":"#f440"},{"offset":0.963,"color":"#f44"},{"offset":0.965,"color":"#f440"},
            {"offset":0.97,"color":"#f440"},{"offset":0.972,"color":"#f44"},{"offset":0.974,"color":"#f440"},
            {"offset":0.979,"color":"#f440"},{"offset":0.981,"color":"#f44"},{"offset":0.983,"color":"#f440"},
            {"offset":0.988,"color":"#f440"},{"offset":0.99,"color":"#f44"},{"offset":0.992,"color":"#f440"}
          ]
        }
      },
      "encoding": {
        "x": {
          "field": "x", "type": "quantitative",
          "axis": {"orient": "top", "labels": false, "ticks": false, "domain": true, "domainWidth": 1.5, "title": null}
        },
        "y": {"field": "v", "type": "quantitative", "stack": null, "axis": null}
      }
    },
    {
      "data": {"name": "fake"},
      "transform": [{"fold": ["lo", "hi"], "as": ["edge", "x"]}],
      "mark": {"type": "line", "color": "#ff0000", "strokeWidth": 3, "strokeJoin": "miter"},
      "encoding": {
        "x": {"field": "x", "type": "quantitative", "axis": null},
        "y": {"field": "v", "type": "quantitative", "axis": null},
        "order": [{"field": "x"}, {"field": "lo"}]
      }
    },
    {
      "data": {"values": [{}]},
      "mark": {
        "type": "rect", "stroke": "#0000ff", "strokeWidth": 3,
        "fill": {
          "gradient": "linear", "x1": 0, "y1": 1, "x2": 1.1693, "y2": 0.2718,
          "stops": [
            {"offset":0.07,"color":"#44f0"},{"offset":0.09,"color":"#44f"},{"offset":0.11,"color":"#44f0"},
            {"offset":0.16,"color":"#44f0"},{"offset":0.18,"color":"#44f"},{"offset":0.2,"color":"#44f0"},
            {"offset":0.25,"color":"#44f0"},{"offset":0.27,"color":"#44f"},{"offset":0.29,"color":"#44f0"},
            {"offset":0.34,"color":"#44f0"},{"offset":0.36,"color":"#44f"},{"offset":0.38,"color":"#44f0"},
            {"offset":0.43,"color":"#44f0"},{"offset":0.45,"color":"#44f"},{"offset":0.47,"color":"#44f0"},
            {"offset":0.52,"color":"#44f0"},{"offset":0.54,"color":"#44f"},{"offset":0.56,"color":"#44f0"},
            {"offset":0.61,"color":"#44f0"},{"offset":0.63,"color":"#44f"},{"offset":0.65,"color":"#44f0"},
            {"offset":0.7,"color":"#44f0"},{"offset":0.72,"color":"#44f"},{"offset":0.74,"color":"#44f0"},
            {"offset":0.79,"color":"#44f0"},{"offset":0.81,"color":"#44f"},{"offset":0.83,"color":"#44f0"},
            {"offset":0.88,"color":"#44f0"},{"offset":0.9,"color":"#44f"},{"offset":0.92,"color":"#44f0"}
          ]
        }
      },
      "encoding": {
        "x": {"datum": 0.0571, "axis": null}, "x2": {"datum": 0.1087},
        "y": {"datum": 0.1781, "axis": null}, "y2": {"datum": 0.1676}
      }
    },
    {
      "data": {"values": [{}]},
      "mark": {
        "type": "rect", "stroke": "#ff0000", "strokeWidth": 3,
        "fill": {
          "gradient": "linear", "x1": 0, "y1": 0, "x2": 1.1712, "y2": 0.7224,
          "stops": [
            {"offset":0.07,"color":"#f440"},{"offset":0.09,"color":"#f44"},{"offset":0.11,"color":"#f440"},
            {"offset":0.16,"color":"#f440"},{"offset":0.18,"color":"#f44"},{"offset":0.2,"color":"#f440"},
            {"offset":0.25,"color":"#f440"},{"offset":0.27,"color":"#f44"},{"offset":0.29,"color":"#f440"},
            {"offset":0.34,"color":"#f440"},{"offset":0.36,"color":"#f44"},{"offset":0.38,"color":"#f440"},
            {"offset":0.43,"color":"#f440"},{"offset":0.45,"color":"#f44"},{"offset":0.47,"color":"#f440"},
            {"offset":0.52,"color":"#f440"},{"offset":0.54,"color":"#f44"},{"offset":0.56,"color":"#f440"},
            {"offset":0.61,"color":"#f440"},{"offset":0.63,"color":"#f44"},{"offset":0.65,"color":"#f440"},
            {"offset":0.7,"color":"#f440"},{"offset":0.72,"color":"#f44"},{"offset":0.74,"color":"#f440"},
            {"offset":0.79,"color":"#f440"},{"offset":0.81,"color":"#f44"},{"offset":0.83,"color":"#f440"},
            {"offset":0.88,"color":"#f440"},{"offset":0.9,"color":"#f44"},{"offset":0.92,"color":"#f440"}
          ]
        }
      },
      "encoding": {
        "x": {"datum": 0.0571, "axis": null}, "x2": {"datum": 0.1087},
        "y": {"datum": 0.1630, "axis": null}, "y2": {"datum": 0.1526}
      }
    },
    {
      "data": {"values": [{}]},
      "mark": {"type": "text", "text": "μ₃ from Dₛ→τ(3μ)ν MC", "fontSize": 17, "align": "left", "baseline": "alphabetic", "color": "black"},
      "encoding": {"x": {"datum": 0.1198, "axis": null}, "y": {"datum": 0.1699, "axis": null}}
    },
    {
      "data": {"values": [{}]},
      "mark": {"type": "text", "text": "fake muons (K/π from D/B decays) MC", "fontSize": 17, "align": "left", "baseline": "alphabetic", "color": "black"},
      "encoding": {"x": {"datum": 0.1198, "axis": null}, "y": {"datum": 0.1544, "axis": null}}
    },
    {
      "data": {"values": [{}]},
      "mark": {"type": "text", "text": "CMS", "fontSize": 32, "fontWeight": "bold", "align": "left", "baseline": "alphabetic", "color": "black"},
      "encoding": {"x": {"datum": 0.0488, "axis": null}, "y": {"datum": 0.2145, "axis": null}}
    },
    {
      "data": {"values": [{}]},
      "mark": {"type": "text", "text": "Simulation Supplementary", "fontSize": 28.5, "fontStyle": "italic", "align": "left", "baseline": "alphabetic", "color": "black"},
      "encoding": {"x": {"datum": 0.0502, "axis": null}, "y": {"datum": 0.2018, "axis": null}}
    }
  ],
  "resolve": {"axis": {"x": "independent", "y": "independent"}},
  "config": {
    "font": "Liberation Sans",
    "view": {"stroke": null},
    "axis": {
      "grid": false, "zindex": 1,
      "labelFont": "Liberation Sans", "labelFontSize": 22, "labelColor": "black",
      "labelFlush": false, "labelOverlap": false, "labelBound": false,
      "tickColor": "black", "tickWidth": 1, "domainColor": "black",
      "titleFont": "Liberation Sans", "titleFontWeight": "normal", "titleColor": "black"
    }
  }
}
